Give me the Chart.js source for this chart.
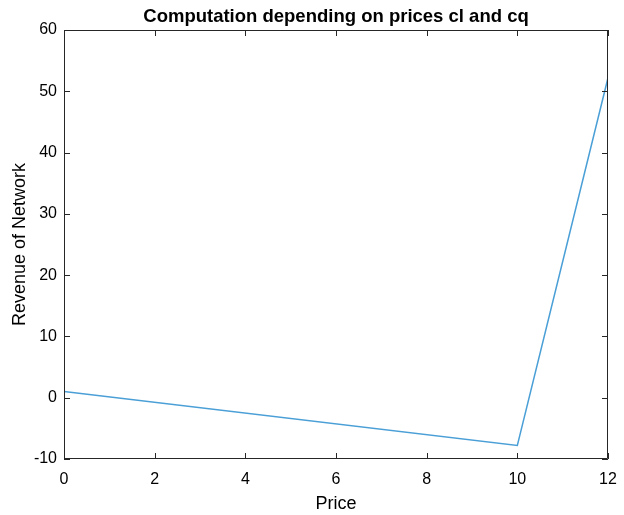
<!DOCTYPE html>
<html lang="en">
<head>
    <meta charset="UTF-8">
    <title>Computation depending on prices cl and cq</title>
    <script src="https://cdn.jsdelivr.net/npm/chart.js"></script>
    <style>
        body { margin: 0; background: #fff; }
        #wrap { width: 624px; height: 515px; position: relative; }
    </style>
</head>
<body>
    <div id="wrap"><canvas id="myChart"></canvas></div>

    <script>
        // data
        const prices = [0, 10, 12];
        const revenue = [1, -7.8, 52.2];
        const xTicks = [0, 2, 4, 6, 8, 10, 12];
        const yTicks = [-10, 0, 10, 20, 30, 40, 50, 60];

        const axisColor = '#262626';

        // MATLAB style box with inward ticks on all four sides
        const boxTicks = {
            id: 'boxTicks',
            afterDraw(chart) {
                const { ctx, chartArea: a, scales } = chart;
                const len = 6;
                ctx.save();
                ctx.strokeStyle = axisColor;
                ctx.lineWidth = 1;
                ctx.beginPath();
                ctx.rect(a.left + 0.5, a.top + 0.5, a.right - a.left - 1, a.bottom - a.top - 1);
                xTicks.forEach(v => {
                    const px = Math.round(scales.x.getPixelForValue(v)) + 0.5;
                    ctx.moveTo(px, a.bottom);
                    ctx.lineTo(px, a.bottom - len);
                    ctx.moveTo(px, a.top);
                    ctx.lineTo(px, a.top + len);
                });
                yTicks.forEach(v => {
                    const py = Math.round(scales.y.getPixelForValue(v)) + 0.5;
                    ctx.moveTo(a.left, py);
                    ctx.lineTo(a.left + len, py);
                    ctx.moveTo(a.right, py);
                    ctx.lineTo(a.right - len, py);
                });
                ctx.stroke();
                ctx.restore();
            }
        };

        Chart.defaults.font.family = '"Liberation Sans", Arial, Helvetica, sans-serif';
        Chart.defaults.color = '#000';

        const ctx = document.getElementById('myChart').getContext('2d');
        new Chart(ctx, {
            type: 'line',
            data: {
                datasets: [{
                    data: prices.map((p, i) => ({ x: p, y: revenue[i] })),
                    borderColor: '#4a9fd7',
                    borderWidth: 1.5,
                    pointRadius: 0,
                    tension: 0,
                    fill: false
                }]
            },
            options: {
                responsive: true,
                maintainAspectRatio: false,
                animation: false,
                layout: { padding: { left: 0, right: 16, top: 0, bottom: 0 } },
                plugins: {
                    legend: { display: false },
                    tooltip: { enabled: false }
                },
                scales: {
                    x: {
                        type: 'linear',
                        min: 0,
                        max: 12,
                        afterBuildTicks: s => { s.ticks = xTicks.map(v => ({ value: v })); },
                        afterFit: s => { s.height = 56; s.paddingLeft = 0; s.paddingRight = 0; },
                        grid: { display: false, drawTicks: false },
                        border: { display: false },
                        ticks: { padding: 11, font: { size: 16 }, color: '#000', maxRotation: 0 },
                        title: { display: true, text: 'Price', font: { size: 18 }, color: '#000', padding: { top: 0, bottom: 0 } }
                    },
                    // top axis only carries the title, so it centres over the plot box
                    xTop: {
                        type: 'linear',
                        position: 'top',
                        display: true,
                        min: 0,
                        max: 12,
                        afterFit: s => { s.height = 30; s.paddingLeft = 0; s.paddingRight = 0; },
                        grid: { display: false, drawTicks: false },
                        border: { display: false },
                        ticks: { display: false },
                        title: {
                            display: true,
                            text: 'Computation depending on prices cl and cq',
                            font: { size: 18.5, weight: 'bold' },
                            color: '#000',
                            padding: { top: 6, bottom: 0 }
                        }
                    },
                    y: {
                        min: -10,
                        max: 60,
                        afterBuildTicks: s => { s.ticks = yTicks.map(v => ({ value: v })); },
                        afterFit: s => { s.width = 64; },
                        grid: { display: false, drawTicks: false },
                        border: { display: false },
                        ticks: { padding: 7, font: { size: 16 }, color: '#000' },
                        title: { display: true, text: 'Revenue of Network', font: { size: 18 }, color: '#000', padding: { top: 9, bottom: 0 } }
                    }
                }
            },
            plugins: [boxTicks]
        });
    </script>
</body>
</html>
